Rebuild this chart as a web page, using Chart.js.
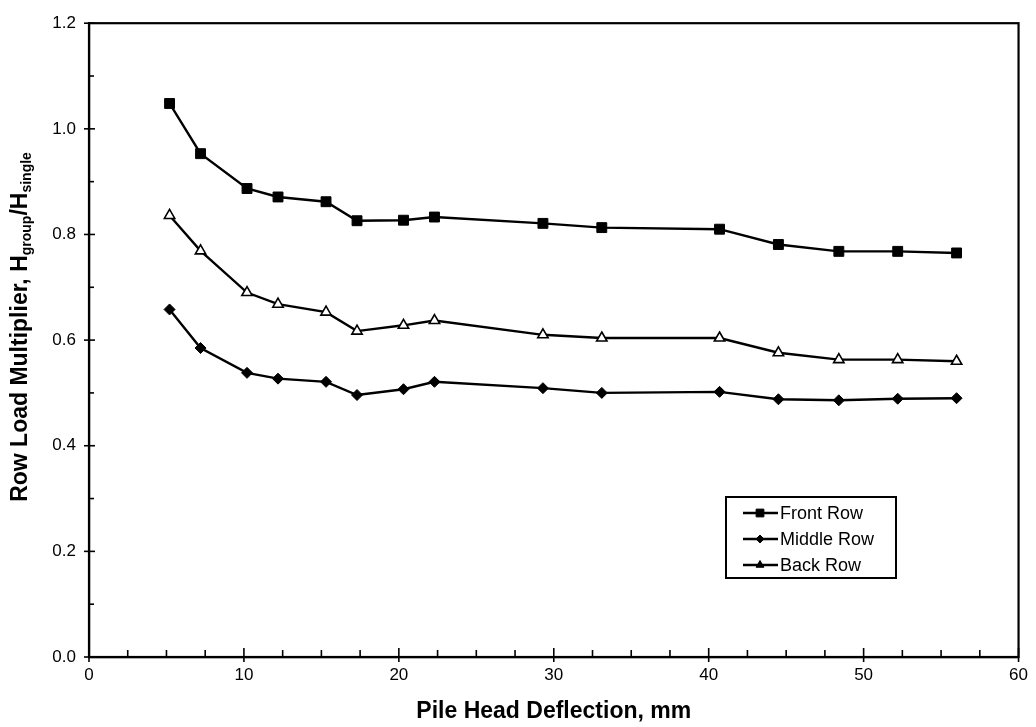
<!DOCTYPE html>
<html>
<head>
<meta charset="utf-8">
<script src="https://cdn.jsdelivr.net/npm/chart.js@4.4.1/dist/chart.umd.min.js"></script>
<style>
  html, body { margin: 0; padding: 0; background: #fff; }
  #wrap { width: 1036px; height: 727px; }
</style>
</head>
<body>
<div id="wrap"><canvas id="c" width="1036" height="727"></canvas></div>
<script>
// ---- data ----
const deflection = [5.2, 7.2, 10.2, 12.2, 15.3, 17.3, 20.3, 22.3, 29.3, 33.1, 40.7, 44.5, 48.4, 52.2, 56.0];
const frontRow  = [1.048, 0.953, 0.887, 0.871, 0.862, 0.826, 0.827, 0.833, 0.821, 0.813, 0.810, 0.781, 0.768, 0.768, 0.765];
const middleRow = [0.658, 0.585, 0.538, 0.527, 0.521, 0.496, 0.507, 0.521, 0.509, 0.500, 0.502, 0.488, 0.486, 0.489, 0.490];
const backRow   = [0.836, 0.769, 0.690, 0.668, 0.653, 0.617, 0.628, 0.637, 0.610, 0.604, 0.604, 0.576, 0.563, 0.563, 0.560];
const seriesLabels = ['Front Row', 'Middle Row', 'Back Row'];
const xTicks = [0, 10, 20, 30, 40, 50, 60];
const yTicks = [0.0, 0.2, 0.4, 0.6, 0.8, 1.0, 1.2];
const xTitle = 'Pile Head Deflection, mm';
const yTitleParts = [['Row Load Multiplier, H', false], ['group', true], ['/H', false], ['single', true]];

const FONT = '"Liberation Sans", Arial, sans-serif';
const toPts = arr => deflection.map((x, i) => ({ x: x, y: arr[i] }));

const styles = [
  { pointStyle: 'rect',     radius: 7,   bg: '#000', bw: 1 },
  { pointStyle: 'rectRot',  radius: 5.5, bg: '#000', bw: 1 },
  { pointStyle: 'triangle', radius: 6,   bg: '#fff', bw: 1.6 }
];
const seriesData = [frontRow, middleRow, backRow];

const datasets = seriesData.map((arr, i) => ({
  label: seriesLabels[i],
  data: toPts(arr),
  borderColor: '#000',
  borderWidth: 2.4,
  backgroundColor: styles[i].bg,
  pointStyle: styles[i].pointStyle,
  pointRadius: styles[i].radius,
  pointHoverRadius: styles[i].radius,
  pointBackgroundColor: styles[i].bg,
  pointBorderColor: '#000',
  pointBorderWidth: styles[i].bw,
  tension: 0,
  fill: false
}));

const decor = {
  id: 'decor',
  afterDraw(chart) {
    const ctx = chart.ctx;
    const a = chart.chartArea;
    const xs = chart.scales.x, ys = chart.scales.y;
    ctx.save();
    ctx.strokeStyle = '#000';
    ctx.fillStyle = '#000';
    // frame
    ctx.lineWidth = 2.2;
    ctx.strokeRect(a.left, a.top, a.right - a.left, a.bottom - a.top);
    // y ticks
    ctx.lineWidth = 1.6;
    for (let v = 0; v <= 1.2001; v += 0.1) {
      const y = ys.getPixelForValue(v);
      const major = Math.round(v * 10) % 2 === 0;
      ctx.beginPath();
      ctx.moveTo(a.left - (major ? 5 : 0), y);
      ctx.lineTo(a.left + (major ? 6 : 5), y);
      ctx.stroke();
    }
    // x ticks
    for (let v = 0; v <= 60.001; v += 2.5) {
      const x = xs.getPixelForValue(v);
      const major = Math.round(v) % 10 === 0 && Math.abs(v - Math.round(v)) < 1e-6;
      ctx.beginPath();
      ctx.moveTo(x, a.bottom + (major ? 5 : 0));
      ctx.lineTo(x, a.bottom - (major ? 9 : 7));
      ctx.stroke();
    }
    // x title
    ctx.font = 'bold 23px ' + FONT;
    ctx.textAlign = 'center';
    ctx.textBaseline = 'middle';
    ctx.fillText(xTitle, (a.left + a.right) / 2, 712);
    // y title with subscripts
    ctx.translate(19, 327);
    ctx.rotate(-Math.PI / 2);
    ctx.textAlign = 'left';
    ctx.textBaseline = 'alphabetic';
    const mainFont = 'bold 23px ' + FONT, subFont = 'bold 14px ' + FONT;
    let total = 0;
    const widths = yTitleParts.map(([t, sub]) => { ctx.font = sub ? subFont : mainFont; const w = ctx.measureText(t).width; total += w; return w; });
    let cx = -total / 2;
    yTitleParts.forEach(([t, sub], i) => {
      ctx.font = sub ? subFont : mainFont;
      ctx.fillText(t, cx, sub ? 12 : 8);
      cx += widths[i];
    });
    ctx.restore();

    // legend
    ctx.save();
    const lx = 726, ly = 497, lw = 170, lh = 81;
    ctx.fillStyle = '#fff';
    ctx.fillRect(lx, ly, lw, lh);
    ctx.strokeStyle = '#000';
    ctx.lineWidth = 2;
    ctx.strokeRect(lx, ly, lw, lh);
    ctx.font = '18px ' + FONT;
    ctx.textBaseline = 'middle';
    ctx.textAlign = 'left';
    chart.data.datasets.forEach((ds, i) => {
      const y = ly + 16 + i * 26;
      ctx.strokeStyle = '#000';
      ctx.lineWidth = 2.4;
      ctx.beginPath();
      ctx.moveTo(743, y);
      ctx.lineTo(778, y);
      ctx.stroke();
      ctx.fillStyle = '#000';
      ctx.lineWidth = 1;
      Chart.helpers.drawPoint(ctx, { pointStyle: ds.pointStyle, radius: Math.max(4, ds.pointRadius - 1.5), rotation: 0, borderWidth: 1 }, 760, y);
      ctx.fillStyle = '#000';
      ctx.fillText(ds.label, 780, y + 1);
    });
    ctx.restore();
  }
};

new Chart(document.getElementById('c'), {
  type: 'line',
  data: { datasets: datasets },
  options: {
    responsive: false,
    animation: false,
    devicePixelRatio: 1,
    layout: { padding: { left: 0, top: 17, right: 15, bottom: 0 } },
    plugins: { legend: { display: false }, tooltip: { enabled: false } },
    scales: {
      x: {
        type: 'linear',
        min: 0, max: 60,
        afterFit(s) { s.height = 70; },
        afterBuildTicks(s) { s.ticks = xTicks.map(v => ({ value: v })); },
        grid: { display: false, drawTicks: false },
        border: { display: true, color: '#000', width: 2.2 },
        ticks: { color: '#000', font: { family: FONT, size: 17 }, padding: 8, maxRotation: 0, callback: v => String(v) }
      },
      y: {
        type: 'linear',
        min: 0, max: 1.2,
        afterFit(s) { s.width = 89; },
        afterBuildTicks(s) { s.ticks = yTicks.map(v => ({ value: v })); },
        grid: { display: false, drawTicks: false },
        border: { display: true, color: '#000', width: 2.2 },
        ticks: { color: '#000', font: { family: FONT, size: 17 }, padding: 13, callback: v => Number(v).toFixed(1) }
      }
    }
  },
  plugins: [decor]
});
</script>
</body>
</html>
